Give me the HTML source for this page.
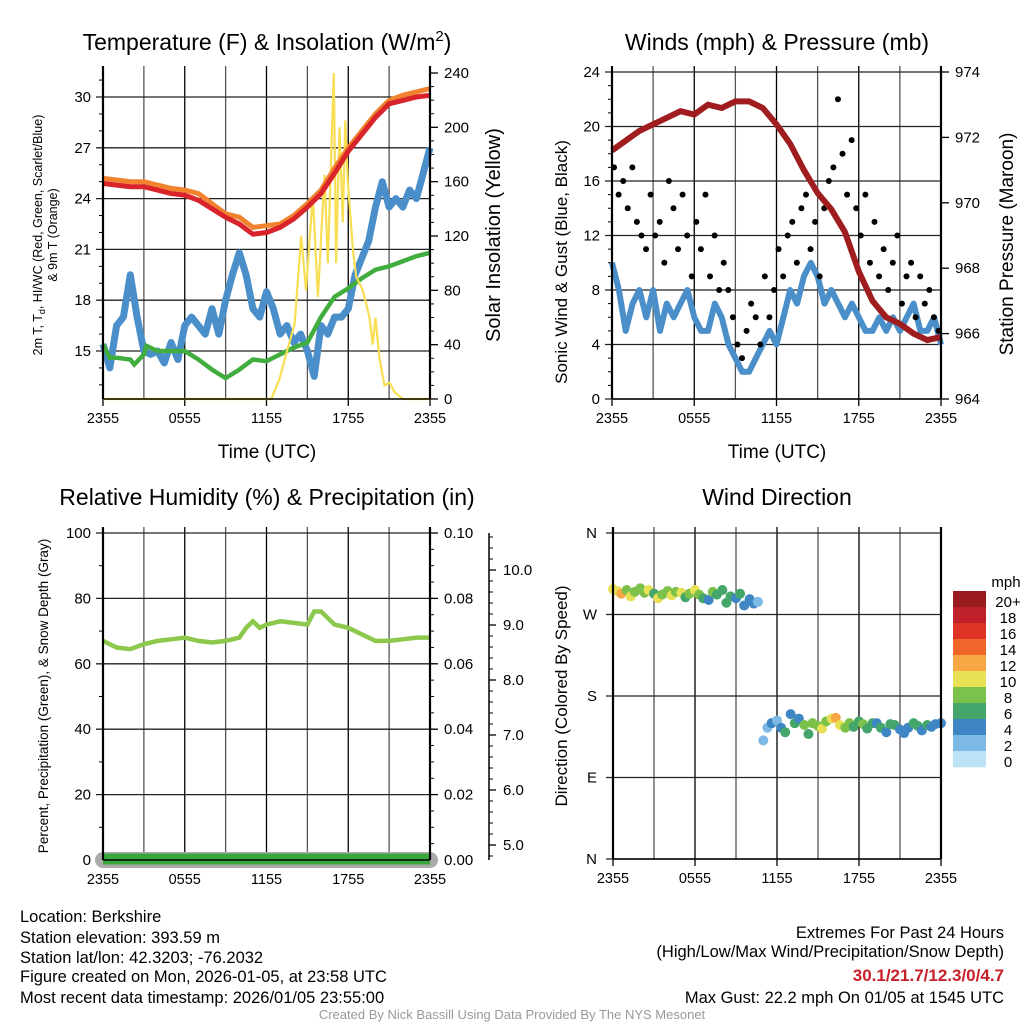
<!DOCTYPE html>
<html><head><meta charset="utf-8"><style>
body{margin:0;background:#fff;width:1024px;height:1024px;overflow:hidden}
svg{display:block}
text{font-family:"Liberation Sans",sans-serif;fill:#000}
.n{font-family:"Liberation Sans Narrow","Liberation Sans",sans-serif}
</style></head><body>
<svg id="s" width="1024" height="1024" viewBox="0 0 1024 1024"></svg>
<script>
// ---- Data ----
const hourly = [0,1,2,3,4,5,6,7,8,9,10,11,12,13,14,15,16,17,18,19,20,21,22,23,24];
const tempRed = [24.9,24.8,24.7,24.7,24.5,24.3,24.2,23.9,23.4,22.9,22.5,21.9,22.0,22.3,22.8,23.5,24.3,25.5,26.8,27.8,28.8,29.6,29.8,30.0,30.1];
const tempOrange = [25.2,25.1,25.0,25.0,24.8,24.6,24.5,24.3,23.7,23.1,22.9,22.3,22.4,22.5,23.0,23.7,24.5,25.8,27.0,28.0,29.0,29.8,30.1,30.3,30.5];
const dewHours = [0,0.5,1,2,2.3,3,3.2,4,5,6,7,8,9,10,11,12,13,14,15,16,17,18,19,20,21,22,23,24];
const dewGreen = [15.4,14.6,14.6,14.5,14.2,14.8,15.3,15.0,15.0,15.0,14.5,13.9,13.4,13.9,14.5,14.4,14.8,15.2,15.5,17.0,18.2,18.7,19.3,19.8,20.0,20.3,20.6,20.8];
const halfHours = [0,0.5,1,1.5,2,2.5,3,3.5,4,4.5,5,5.5,6,6.5,7,7.5,8,8.5,9,9.5,10,10.5,11,11.5,12,12.5,13,13.5,14,14.5,15,15.5,16,16.5,17,17.5,18,18.5,19,19.5,20,20.5,21,21.5,22,22.5,23,23.5,24];
const wcBlue = [15.4,14.0,16.5,17.0,19.5,17.0,15.0,14.8,15.0,14.3,15.5,14.5,16.5,17.0,16.5,16.0,17.5,16.0,18.0,19.5,20.8,19.5,17.5,17.0,18.5,17.5,16.0,16.5,15.5,16.0,15.0,13.5,16.5,16.0,17.0,17.0,17.5,19.5,20.5,21.5,23.5,25.0,23.5,24.0,23.5,24.5,24.0,25.5,27.0];
const solHours = [0,12.35,12.96,13.5,14.06,14.55,14.9,15.4,15.77,16.26,16.5,16.94,17.11,17.36,17.6,17.78,17.97,18.34,18.58,19.07,19.56,19.8,20.0,20.29,20.66,21.03,21.4,22,24];
const solar = [0,0,15,35,55,120,80,150,75,165,100,240,100,200,130,205,160,110,90,80,60,40,60,30,10,12,5,0,0];
const windBlue = [10,8,5,7,8,6,8,5,7,6,7,8,6,5,5,7,6,4,3,2,2,3,4,5,4,6,8,7,9,10,9,7,8,7,6,7,6,5,5,6,5,6,5,6,7,5,5,6,4];
const gust = [17,15,16,14,17,13,12,11,15,12,13,10,16,14,11,15,12,9,13,11,15,9,12,8,10,8,6,4,3,5,7,6,4,9,6,8,11,9,12,13,10,14,15,11,13,9,14,16,17,22,18,15,19,14,12,15,10,13,9,11,8,10,12,7,9,10,6,9,7,8,6,5];
const pressure = [971.6,971.9,972.2,972.4,972.6,972.8,972.7,973.0,972.9,973.1,973.1,972.9,972.4,971.8,971.0,970.3,969.8,969.1,967.9,967.0,966.5,966.3,966.0,965.8,965.9];
const rhHours = [0,1,2,3,4,5,6,7,8,9,10,10.5,11,11.5,12,13,14,15,15.5,16,16.5,17,18,19,20,21,22,23,24];
const rh = [67,65,64.5,66,67,67.5,68,67,66.5,67,68,71,73,71,72,73,72.5,72,76,76,74,72,71,69,67,67,67.5,68,68];
const dirHours = [0,0.3,0.6,1,1.3,1.6,2,2.3,2.6,3,3.3,3.6,4,4.3,4.6,5,5.3,5.6,6,6.3,6.6,7,7.3,7.6,8,8.3,8.6,9,9.3,9.6,10,10.3,10.6,11,11.3,11.6,12,12.3,12.6,13,13.3,13.6,14,14.3,14.6,15,15.3,15.6,16,16.3,16.6,17,17.3,17.6,18,18.3,18.6,19,19.3,19.6,20,20.3,20.6,21,21.3,21.6,22,22.3,22.6,23,23.3,23.6,24];
const dirDeg = [298,296,293,297,290,295,299,294,297,293,288,292,296,291,295,294,289,293,297,292,288,286,295,292,297,283,290,288,293,280,287,282,284,131,145,150,153,145,140,160,150,155,148,138,150,147,144,152,155,156,148,145,150,146,152,149,144,150,150,145,140,149,148,143,139,145,150,147,142,148,146,149,150];
const dirSpd = [10,9,12,8,9,7,7,8,10,6,9,7,7,10,8,9,6,7,10,7,6,4,7,6,6,5,6,4,6,4,3,4,2,1,2,3,2,4,5,3,6,4,7,6,8,7,9,8,10,12,9,7,8,6,6,7,5,6,4,5,4,6,6,4,3,4,6,5,4,5,3,4,4];
const cbLabels = ["20+","18","16","14","12","10","8","6","4","2","0"];
const cbColors = ["#991b1e","#c0202a","#de3428","#f0652a","#f7a743","#e8e055","#7cc14a","#45a66b","#3f87c4","#7cb9e4","#bde3f6"];

const NS="http://www.w3.org/2000/svg", S=document.getElementById('s');
function el(tag,attrs,parent,txt){const e=document.createElementNS(NS,tag);for(const k in attrs)e.setAttribute(k,attrs[k]);if(txt!==undefined)e.textContent=txt;(parent||S).appendChild(e);return e;}
function lin(d0,d1,r0,r1){return v=>r0+(v-d0)/(d1-d0)*(r1-r0);}
function pathOf(xs,ys,fx,fy){return xs.map((x,i)=>(i?'L':'M')+fx(x).toFixed(1)+','+fy(ys[i]).toFixed(1)).join('');}
function spdColor(s){return cbColors[10-Math.min(10,Math.round(s/2))];}

const xLabels=["2355","0555","1155","1755","2355"];
function frame(g,L,R,T,B){
  const fx=lin(0,24,L,R);
  for(let h=3;h<24;h+=3){
    const ln=el('line',{x1:fx(h),x2:fx(h),y1:T-6,y2:B,stroke:(h%6?'#555':'#000'),'stroke-width':1.3},g);
    
    
  }
  xLabels.forEach((t,i)=>{
    const x=fx(i*6);
    el('line',{x1:x,x2:x,y1:B,y2:B+7,stroke:'#000','stroke-width':1.3},g);
    const tx=el('text',{x:x,y:B+24,'text-anchor':'middle','font-size':14.5,class:'n'},g,t);
    
    
  });
  return fx;
}
function hgrid(g,L,R,y){
  el('line',{x1:L-7,x2:R,y1:y,y2:y,stroke:'#222','stroke-width':1.3},g);
}
function border(g,L,R,T,B){
  el('line',{x1:L,x2:L,y1:T-6,y2:B,stroke:'#000','stroke-width':2.2},g);
  el('line',{x1:R,x2:R,y1:T-6,y2:B,stroke:'#000','stroke-width':2.2},g);
}

// ---------- Panel 1 ----------
(function(){
  const g=el('g',{});
  const L=103,R=430,T=72,B=399;
  el('text',{x:267,y:50,'text-anchor':'middle','font-size':23,},g).innerHTML='Temperature (F) &amp; Insolation (W/m<tspan dy="-9" font-size="15">2</tspan><tspan dy="9">)</tspan>';
  const fx=frame(g,L,R,T,B);
  const fy=lin(15,30,351,97), fs=lin(0,240,399,73);
  [15,18,21,24,27,30].forEach(v=>{hgrid(g,L,R,fy(v));el('text',{x:L-12,y:fy(v)+5,'text-anchor':'end','font-size':15,class:'n',},g,v);});
  for(let v=13;v<=31;v++) if(v%3) el('line',{x1:L-4,x2:L,y1:fy(v),y2:fy(v),stroke:'#000'},g);
  [0,40,80,120,160,200,240].forEach(v=>{el('line',{x1:R,x2:R+8,y1:fs(v),y2:fs(v),stroke:'#000','stroke-width':1.3},g);el('text',{x:R+14,y:fs(v)+5,'font-size':15,class:'n',},g,v);});
  for(let v=10;v<240;v+=10) if(v%40) el('line',{x1:R,x2:R+4,y1:fs(v),y2:fs(v),stroke:'#000'},g);
  el('path',{d:pathOf(halfHours,wcBlue,fx,fy),fill:'none',stroke:'#4a8fca','stroke-width':7,'stroke-linejoin':'round',},g);
  el('path',{d:pathOf(dewHours,dewGreen,fx,fy),fill:'none',stroke:'#42ad3f','stroke-width':4.5,},g);
  el('path',{d:pathOf(solHours,solar,fx,fs),fill:'none',stroke:'#f7de52','stroke-width':2.2,},g);
  el('path',{d:pathOf(hourly,tempOrange,fx,fy),fill:'none',stroke:'#f2832e','stroke-width':5,},g);
  el('path',{d:pathOf(hourly,tempRed,fx,fy),fill:'none',stroke:'#d8242a','stroke-width':5,},g);
  border(g,L,R,T,B);
  el('line',{x1:L,x2:R,y1:B,y2:B,stroke:'#000','stroke-width':1.5},g);
  el('text',{x:267,y:458,'text-anchor':'middle','font-size':19,},g,'Time (UTC)');
  const yt=el('text',{transform:'translate(42,235) rotate(-90)','text-anchor':'middle','font-size':12.5,},g);
  yt.innerHTML='2m T, T<tspan dy="3" font-size="9">d</tspan><tspan dy="-3">, HI/WC (Red, Green, Scarlet/Blue)</tspan>';
  el('text',{transform:'translate(57,235) rotate(-90)','text-anchor':'middle','font-size':12.5,},g,'& 9m T (Orange)');
  el('text',{transform:'translate(500,235) rotate(-90)','text-anchor':'middle','font-size':20,},g,'Solar Insolation (Yellow)');
})();

// ---------- Panel 2 ----------
(function(){
  const g=el('g',{});
  const L=612,R=941,T=72,B=399;
  el('text',{x:777,y:50,'text-anchor':'middle','font-size':23,},g,'Winds (mph) & Pressure (mb)');
  const fx=frame(g,L,R,T,B);
  const fy=lin(0,24,399,72), fp=lin(964,974,399,72);
  [0,4,8,12,16,20,24].forEach(v=>{hgrid(g,L,R,fy(v));el('text',{x:L-12,y:fy(v)+5,'text-anchor':'end','font-size':15,class:'n',},g,v);});
  for(let v=1;v<24;v++) if(v%4) el('line',{x1:L-4,x2:L,y1:fy(v),y2:fy(v),stroke:'#000'},g);
  [964,966,968,970,972,974].forEach(v=>{el('line',{x1:R,x2:R+8,y1:fp(v),y2:fp(v),stroke:'#000','stroke-width':1.3},g);el('text',{x:R+14,y:fp(v)+5,'font-size':15,class:'n',},g,v);});
  el('path',{d:pathOf(halfHours,windBlue,fx,fy),fill:'none',stroke:'#4a8fca','stroke-width':6,'stroke-linejoin':'round',},g);
  gust.forEach((v,i)=>{
    const c=el('circle',{cx:fx(i*24/gust.length+0.15),cy:fy(v),r:3,fill:'#000'},g);
    
    
  });
  el('path',{d:pathOf(hourly,pressure,fx,fp),fill:'none',stroke:'#a01d1f','stroke-width':6,},g);
  border(g,L,R,T,B);
  el('line',{x1:L,x2:R,y1:B,y2:B,stroke:'#000','stroke-width':1.5},g);
  el('text',{x:777,y:458,'text-anchor':'middle','font-size':19,},g,'Time (UTC)');
  el('text',{transform:'translate(567,262) rotate(-90)','text-anchor':'middle','font-size':17,},g,'Sonic Wind & Gust (Blue, Black)');
  el('text',{transform:'translate(1013,244) rotate(-90)','text-anchor':'middle','font-size':19,},g,'Station Pressure (Maroon)');
})();

// ---------- Panel 3 ----------
(function(){
  const g=el('g',{});
  const L=103,R=430,T=533,B=860;
  el('text',{x:267,y:505,'text-anchor':'middle','font-size':23,},g,'Relative Humidity (%) & Precipitation (in)');
  const fx=frame(g,L,R,T,B);
  const fy=lin(0,100,B,T), fpr=lin(0,0.1,B,T), fsd=lin(5,10,845,570);
  [0,20,40,60,80,100].forEach(v=>{hgrid(g,L,R,fy(v));el('text',{x:L-12,y:fy(v)+5,'text-anchor':'end','font-size':15,class:'n',},g,v);});
  for(let v=10;v<100;v+=20) el('line',{x1:L-4,x2:L,y1:fy(v),y2:fy(v),stroke:'#000'},g);
  ['0.00','0.02','0.04','0.06','0.08','0.10'].forEach(v=>{el('line',{x1:R,x2:R+8,y1:fpr(+v),y2:fpr(+v),stroke:'#000','stroke-width':1.3},g);el('text',{x:R+14,y:fpr(+v)+5,'font-size':15,class:'n',},g,v);});
  for(let v=0.005;v<0.1;v+=0.005) el('line',{x1:R,x2:R+4,y1:fpr(v),y2:fpr(v),stroke:'#000'},g);
  el('line',{x1:489,x2:489,y1:T,y2:B,stroke:'#000','stroke-width':1.5},g);
  ['5.0','6.0','7.0','8.0','9.0','10.0'].forEach(v=>{el('line',{x1:489,x2:496,y1:fsd(+v),y2:fsd(+v),stroke:'#000','stroke-width':1.3},g);el('text',{x:503,y:fsd(+v)+5,'font-size':15,class:'n',},g,v);});
  for(let v=4.8;v<10.6;v+=0.2) el('line',{x1:489,x2:493,y1:fsd(v),y2:fsd(v),stroke:'#000'},g);
  el('path',{d:pathOf(rhHours,rh,fx,fy),fill:'none',stroke:'#8cc84b','stroke-width':4.5,},g);
  el('line',{x1:fx(0),x2:fx(24),y1:fy(0),y2:fy(0),stroke:'#aaa','stroke-width':16,'stroke-linecap':'round',},g);
  el('line',{x1:fx(0),x2:fx(24),y1:fy(0)-1,y2:fy(0)-1,stroke:'#3aa73e','stroke-width':11,},g);
  border(g,L,R,T,B);
  el('line',{x1:L,x2:R,y1:B,y2:B,stroke:'#000','stroke-width':1.5},g);
  el('text',{transform:'translate(48,696) rotate(-90)','text-anchor':'middle','font-size':13.5,},g,'Percent, Precipitation (Green), & Snow Depth (Gray)');
})();

// ---------- Panel 4 ----------
(function(){
  const g=el('g',{});
  const L=613,R=941,T=533,B=859;
  el('text',{x:777,y:505,'text-anchor':'middle','font-size':23,},g,'Wind Direction');
  const fx=frame(g,L,R,T,B);
  const fy=lin(0,360,B,T);
  [['N',0],['E',90],['S',180],['W',270],['N',360]].forEach(d=>{hgrid(g,L,R,fy(d[1]));el('text',{x:L-16,y:fy(d[1])+5,'text-anchor':'end','font-size':15,class:'n',},g,d[0]);});
  dirHours.forEach((h,i)=>{
    const c=el('circle',{cx:fx(h),cy:fy(dirDeg[i]),r:5,fill:spdColor(dirSpd[i])},g);
    
    
  });
  border(g,L,R,T,B);
  el('line',{x1:L,x2:R,y1:B,y2:B,stroke:'#000','stroke-width':1.5},g);
  el('text',{transform:'translate(567,696) rotate(-90)','text-anchor':'middle','font-size':17,},g,'Direction (Colored By Speed)');
  const cb=el('g',{},g);
  cbColors.forEach((c,i)=>{
    el('rect',{x:953,y:591+i*16,width:33,height:16.3,fill:c},cb);
    const t=el('text',{x:1008,y:607+i*16,'text-anchor':'middle','font-size':15,class:'n'},cb,cbLabels[i]);
    
    
  });
  el('text',{x:1006,y:587,'text-anchor':'middle','font-size':15,class:'n',},cb,'mph');
})();

// ---------- footer text ----------
const info=["Location: Berkshire","Station elevation: 393.59 m","Station lat/lon: 42.3203; -76.2032","Figure created on Mon, 2026-01-05, at 23:58 UTC","Most recent data timestamp: 2026/01/05 23:55:00"];
const infoY=[922,943,963,982,1003];
info.forEach((t,i)=>{const e=el('text',{x:20,y:infoY[i],'font-size':16.5,class:'n'},S,t);});
el('text',{x:1004,y:938,'text-anchor':'end','font-size':16.5,class:'n',},S,'Extremes For Past 24 Hours');
el('text',{x:1004,y:957,'text-anchor':'end','font-size':16.5,class:'n',},S,'(High/Low/Max Wind/Precipitation/Snow Depth)');
el('text',{x:1004,y:981,'text-anchor':'end','font-size':17,'font-weight':'bold',class:'n',style:'fill:#c8202a',},S,'30.1/21.7/12.3/0/4.7');
el('text',{x:1004,y:1003,'text-anchor':'end','font-size':16.5,class:'n',},S,'Max Gust: 22.2 mph On 01/05 at 1545 UTC');
el('text',{x:512,y:1019,'text-anchor':'middle','font-size':13,class:'n',style:'fill:#999',},S,'Created By Nick Bassill Using Data Provided By The NYS Mesonet');
</script>
</body></html>
